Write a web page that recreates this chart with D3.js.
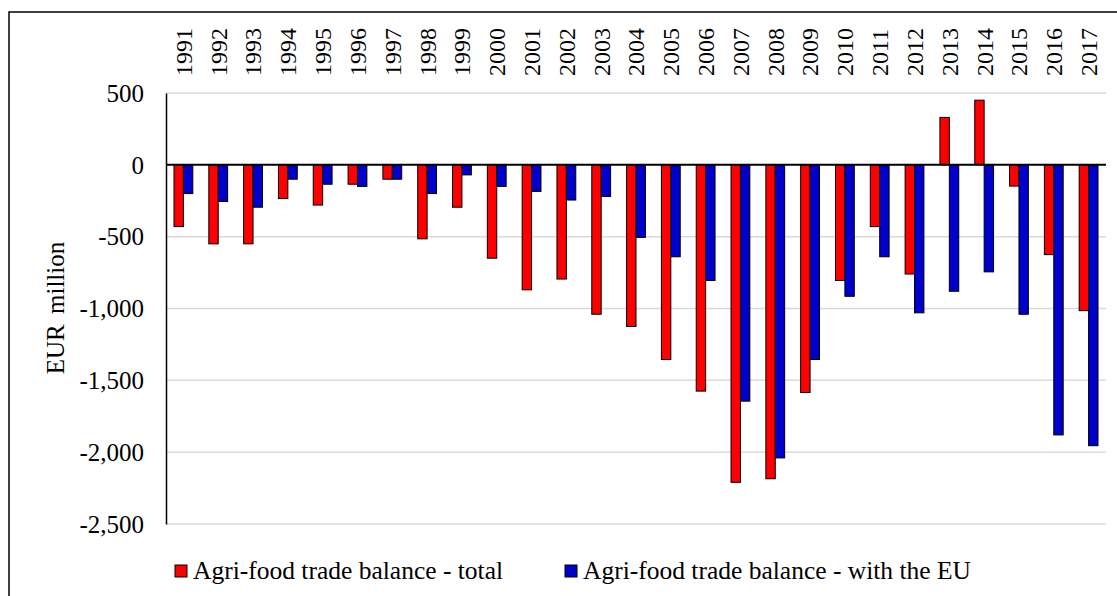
<!DOCTYPE html>
<html>
<head>
<meta charset="utf-8">
<script src="https://cdn.jsdelivr.net/npm/d3@7"></script>
<style>
  body { margin: 0; background: #fff; }
  svg text { font-family: "Liberation Serif", "DejaVu Serif", serif; }
</style>
</head>
<body>
<div id="graph"></div>
<script>
// Data (EUR million)
var years = ["1991","1992","1993","1994","1995","1996","1997","1998","1999","2000",
             "2001","2002","2003","2004","2005","2006","2007","2008","2009","2010",
             "2011","2012","2013","2014","2015","2016","2017"];
var totalBalance = [-430,-550,-550,-235,-280,-135,-100,-515,-295,-650,
                    -870,-795,-1040,-1125,-1355,-1575,-2210,-2185,-1585,-805,
                    -430,-760,330,450,-148,-625,-1015];
var euBalance = [-200,-255,-295,-100,-135,-150,-100,-200,-70,-150,
                 -185,-245,-220,-505,-640,-805,-1645,-2040,-1355,-915,
                 -640,-1030,-880,-745,-1040,-1880,-1955];
var seriesNames = ["Agri-food trade balance - total", "Agri-food trade balance - with the EU"];
var seriesColors = ["#ff0000", "#0000cc"];
var yTicks = [500, 0, -500, -1000, -1500, -2000, -2500];

var W = 1117, H = 596;
var plot = {left: 166, right: 1106, top: 93, bottom: 524};
var serif = "'Liberation Serif', 'DejaVu Serif', serif";

var svg = d3.select("#graph").append("svg")
    .attr("width", W)
    .attr("height", H);

// outer frame (only left and top edges fall inside the picture)
svg.append("rect")
    .attr("x", 9).attr("y", 12)
    .attr("width", W + 20).attr("height", H + 20)
    .attr("fill", "none")
    .attr("stroke", "#000")
    .attr("stroke-width", 1.5);

var x0 = d3.scaleBand().domain(years).range([plot.left, plot.right]).padding(0);
var x1 = d3.scaleBand().domain([0, 1]).range([0, x0.bandwidth()]).paddingInner(0).paddingOuter(0.85);
var y = d3.scaleLinear().domain([-2500, 500]).range([plot.bottom, plot.top]);

var fmt = d3.formatLocale({decimal: ".", thousands: ",", grouping: [3], currency: ["", ""], minus: "-"}).format(",");

// gridlines
svg.append("g")
    .selectAll("line")
    .data(yTicks.filter(function(d) { return d !== 0; }))
    .enter().append("line")
    .attr("x1", plot.left).attr("x2", plot.right)
    .attr("y1", function(d) { return y(d); })
    .attr("y2", function(d) { return y(d); })
    .attr("stroke", "#d9d9d9")
    .attr("stroke-width", 1.5);

// y axis
var yaxis = svg.append("g")
    .attr("transform", "translate(" + plot.left + ",0)")
    .call(d3.axisLeft(y).tickValues(yTicks).tickFormat(fmt).tickSize(0).tickPadding(22));
yaxis.attr("font-family", null).attr("font-size", null);
yaxis.select(".domain").attr("stroke", "#000").attr("stroke-width", 1.5);
yaxis.selectAll("text")
    .style("font-family", serif)
    .style("font-size", "25px")
    .attr("fill", "#000")
    .attr("dy", "0.33em");

// bars
var table = years.map(function(yr, i) { return {year: yr, vals: [totalBalance[i], euBalance[i]]}; });
var groups = svg.append("g").selectAll("g")
    .data(table)
    .enter().append("g")
    .attr("transform", function(d) { return "translate(" + x0(d.year) + ",0)"; });
groups.selectAll("rect")
    .data(function(d) { return d.vals.map(function(v, k) { return {k: k, v: v}; }); })
    .enter().append("rect")
    .attr("x", function(d) { return x1(d.k); })
    .attr("width", x1.bandwidth())
    .attr("y", function(d) { return y(Math.max(0, d.v)); })
    .attr("height", function(d) { return Math.abs(y(d.v) - y(0)); })
    .attr("fill", function(d) { return seriesColors[d.k]; })
    .attr("stroke", "#000")
    .attr("stroke-width", 1);

// zero line
svg.append("line")
    .attr("x1", plot.left).attr("x2", plot.right)
    .attr("y1", y(0)).attr("y2", y(0))
    .attr("stroke", "#000")
    .attr("stroke-width", 2);

// year labels along the top
svg.append("g").selectAll("text")
    .data(years)
    .enter().append("text")
    .attr("transform", function(d) { return "translate(" + (x0(d) + x0.bandwidth() / 2) + ",76) rotate(-90)"; })
    .attr("dy", "0.35em")
    .attr("text-anchor", "start")
    .style("font-family", serif)
    .style("font-size", "24px")
    .text(function(d) { return d; });

// y label
svg.append("text")
    .attr("transform", "translate(55,308) rotate(-90)")
    .attr("dy", "0.35em")
    .attr("text-anchor", "middle")
    .style("font-family", serif)
    .style("font-size", "25px")
    .style("word-spacing", "4px")
    .text("EUR million");

// legend
var legendX = [175, 565];
var legend = svg.append("g").selectAll("g")
    .data(seriesNames)
    .enter().append("g")
    .attr("transform", function(d, i) { return "translate(" + legendX[i] + ",565)"; });
legend.append("rect")
    .attr("width", 12).attr("height", 12)
    .attr("fill", function(d, i) { return seriesColors[i]; })
    .attr("stroke", "#000")
    .attr("stroke-width", 1);
legend.append("text")
    .attr("x", 18).attr("y", 14)
    .style("font-family", serif)
    .style("font-size", "25.5px")
    .text(function(d) { return d; });
</script>
</body>
</html>
